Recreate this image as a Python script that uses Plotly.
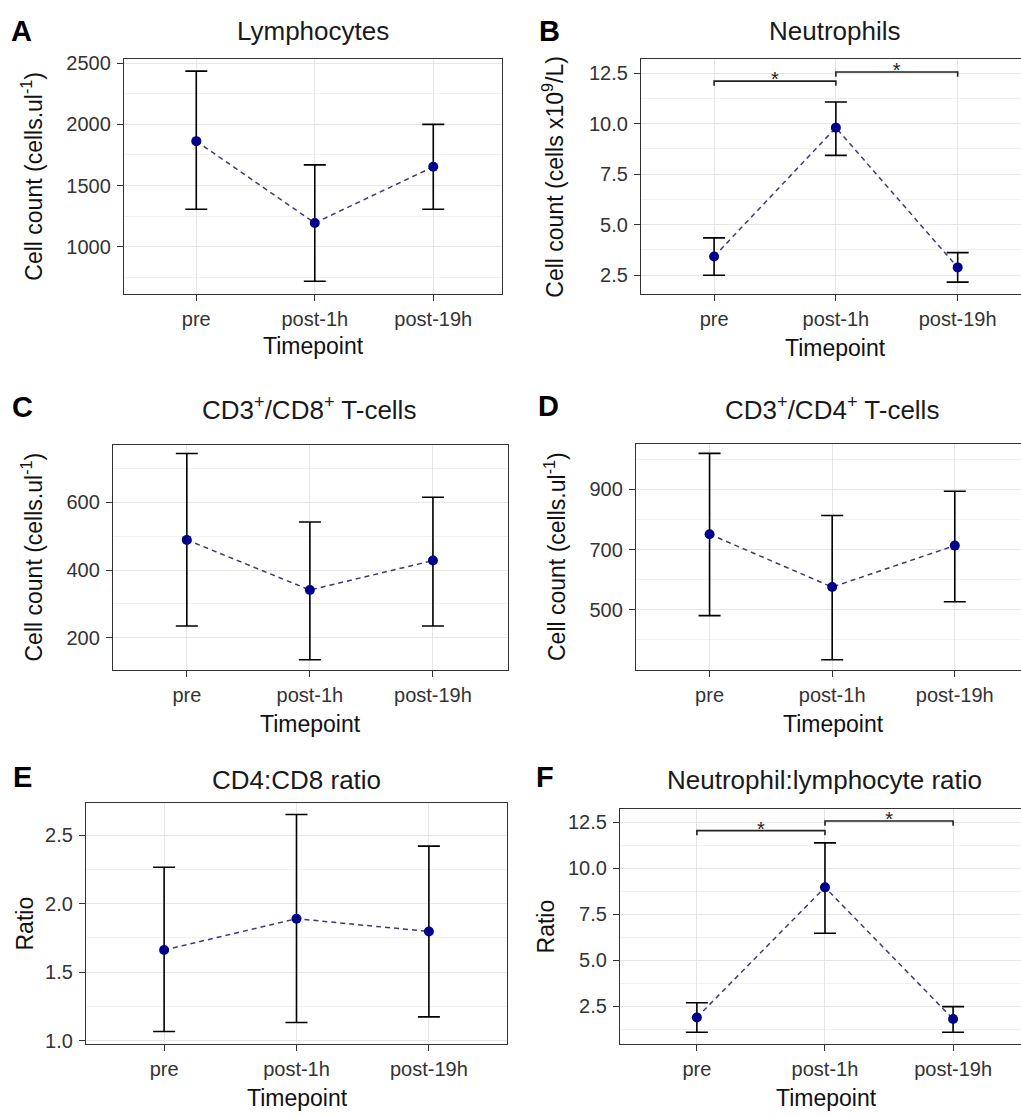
import plotly.graph_objects as go

# ---------------- data ----------------
categories = ["pre", "post-1h", "post-19h"]

lymph_mean = [1863, 1194, 1653]
lymph_upper = [2435, 1669, 2000]
lymph_lower = [1306, 718, 1306]
lymph_ticks = [1000, 1500, 2000, 2500]
lymph_ticklabels = ["1000", "1500", "2000", "2500"]
lymph_minor = [750, 1250, 1750, 2250]

neut_mean = [3.43, 9.80, 2.89]
neut_upper = [4.35, 11.07, 3.62]
neut_lower = [2.50, 8.43, 2.16]
neut_ticks = [2.5, 5.0, 7.5, 10.0, 12.5]
neut_ticklabels = ["2.5", "5.0", "7.5", "10.0", "12.5"]
neut_minor = [3.75, 6.25, 8.75, 11.25]
neut_brackets = [(0, 1, 12.10), (1, 2, 12.55)]

cd8_mean = [489, 341, 428]
cd8_upper = [744, 542, 615]
cd8_lower = [235, 135, 235]
cd8_ticks = [200, 400, 600]
cd8_ticklabels = ["200", "400", "600"]
cd8_minor = [300, 500, 700]

cd4_mean = [751, 575, 713]
cd4_upper = [1020, 813, 894]
cd4_lower = [480, 333, 526]
cd4_ticks = [500, 700, 900]
cd4_ticklabels = ["500", "700", "900"]
cd4_minor = [400, 600, 800, 1000]

ratio_mean = [1.662, 1.890, 1.797]
ratio_upper = [2.265, 2.649, 2.419]
ratio_lower = [1.068, 1.134, 1.175]
ratio_ticks = [1.0, 1.5, 2.0, 2.5]
ratio_ticklabels = ["1.0", "1.5", "2.0", "2.5"]
ratio_minor = [1.25, 1.75, 2.25]

nlr_mean = [1.88, 8.96, 1.79]
nlr_upper = [2.68, 11.38, 2.47]
nlr_lower = [1.07, 6.46, 1.07]
nlr_ticks = [2.5, 5.0, 7.5, 10.0, 12.5]
nlr_ticklabels = ["2.5", "5.0", "7.5", "10.0", "12.5"]
nlr_minor = [1.25, 3.75, 6.25, 8.75, 11.25]
nlr_brackets = [(0, 1, 12.05), (1, 2, 12.57)]

# ---------------- layout helpers ----------------
W, H = 1021, 1117
FONT = "Liberation Sans, Arial, sans-serif"
BORDER = "#333333"
GRID_MAJOR = "#E6E6E6"
GRID_MINOR = "#F1F1F1"
POINT = "#00008B"
LINE = "#3C3C72"

fig = go.Figure()
annotations = []


def px_x(v):
    return v / W


def px_y(v):
    return 1 - v / H


def add_panel(n, letter, title, ytitle, mean, upper, lower, ticks, ticklabels,
              minor, box, xrange, yrange, ytitle_x, title_xy, letter_xy,
              xtitle_xy, right_open=False, brackets=None):
    xs = list(range(1, len(categories) + 1))
    sfx = "" if n == 1 else str(n)
    xa, ya = "x" + sfx, "y" + sfx

    fig.add_trace(go.Scatter(
        x=xs, y=mean, mode="lines", xaxis=xa, yaxis=ya,
        line=dict(color=LINE, width=1.5, dash="5px,4px"),
        hoverinfo="skip"))
    fig.add_trace(go.Scatter(
        x=xs, y=mean, mode="markers", xaxis=xa, yaxis=ya,
        marker=dict(color=POINT, size=10),
        error_y=dict(type="data", symmetric=False,
                     array=[u - m for u, m in zip(upper, mean)],
                     arrayminus=[m - l for m, l in zip(mean, lower)],
                     color="black", thickness=1.6, width=11)))

    if brackets:
        tip = 0.02 * (yrange[1] - yrange[0])
        for i, j, yb in brackets:
            fig.add_trace(go.Scatter(
                x=[xs[i], xs[i], xs[j], xs[j]],
                y=[yb - tip, yb, yb, yb - tip],
                mode="lines", xaxis=xa, yaxis=ya,
                line=dict(color="#222222", width=1.6),
                hoverinfo="skip"))
            fig.add_trace(go.Scatter(
                x=[(xs[i] + xs[j]) / 2], y=[yb], mode="text", text=["*"],
                textposition="middle center", xaxis=xa, yaxis=ya,
                textfont=dict(family=FONT, size=20, color="#222222"),
                hoverinfo="skip"))

    x0, y0, x1, y1 = box
    xkey = "xaxis" + sfx
    ykey = "yaxis" + sfx
    fig.update_layout(**{
        xkey: dict(
            domain=[px_x(x0), px_x(x1)], anchor=ya, range=xrange,
            tickmode="array", tickvals=xs, ticktext=categories,
            showgrid=True, gridcolor=GRID_MAJOR, gridwidth=1,
            zeroline=False, showline=True, mirror=True,
            linecolor=BORDER, linewidth=1.3,
            ticks="outside", ticklen=6, tickwidth=1.2, tickcolor=BORDER,
            tickfont=dict(family=FONT, size=20, color="#333333"),
            ticklabelstandoff=1,
        ),
        ykey: dict(
            domain=[px_y(y1), px_y(y0)], anchor=xa, range=yrange,
            tickmode="array", tickvals=ticks, ticktext=ticklabels,
            showgrid=True, gridcolor=GRID_MAJOR, gridwidth=1,
            minor=dict(tickmode="array", tickvals=minor, showgrid=True,
                       gridcolor=GRID_MINOR, gridwidth=1, ticks=""),
            zeroline=False, showline=True, mirror=(not right_open),
            linecolor=BORDER, linewidth=1.3,
            ticks="outside", ticklen=6, tickwidth=1.2, tickcolor=BORDER,
            tickfont=dict(family=FONT, size=20, color="#333333"),
            ticklabelstandoff=2,
        ),
    })

    cy = (y0 + y1) / 2
    annotations.append(dict(
        text=ytitle, x=px_x(ytitle_x), y=px_y(cy), xref="paper", yref="paper",
        xanchor="center", yanchor="middle", textangle=-90, showarrow=False,
        font=dict(family=FONT, size=23, color="#111111")))
    annotations.append(dict(
        text=title, x=px_x(title_xy[0]), y=px_y(title_xy[1]), xref="paper",
        yref="paper", xanchor="center", yanchor="middle", showarrow=False,
        font=dict(family=FONT, size=26, color="#1a1a1a")))
    annotations.append(dict(
        text="<b>" + letter + "</b>", x=px_x(letter_xy[0]), y=px_y(letter_xy[1]),
        xref="paper", yref="paper", xanchor="center", yanchor="middle",
        showarrow=False, font=dict(family=FONT, size=29, color="black")))
    annotations.append(dict(
        text="Timepoint", x=px_x(xtitle_xy[0]), y=px_y(xtitle_xy[1]),
        xref="paper", yref="paper", xanchor="center", yanchor="middle",
        showarrow=False, font=dict(family=FONT, size=23, color="#111111")))


add_panel(1, "A", "Lymphocytes", "Cell count (cells.ul<sup>-1</sup>)",
          lymph_mean, lymph_upper, lymph_lower, lymph_ticks, lymph_ticklabels,
          lymph_minor, box=(124, 53, 502, 291), xrange=[0.39, 3.58],
          yrange=[613, 2532], ytitle_x=32, title_xy=(313, 24),
          letter_xy=(21, 24), xtitle_xy=(313, 344))

add_panel(2, "B", "Neutrophils", "Cell count (cells x10<sup>9</sup>/L)",
          neut_mean, neut_upper, neut_lower, neut_ticks, neut_ticklabels,
          neut_minor, box=(641, 53, 1021, 291), xrange=[0.40, 3.52],
          yrange=[1.57, 13.18], ytitle_x=553, title_xy=(835, 24),
          letter_xy=(549, 24), xtitle_xy=(835, 346), right_open=True,
          brackets=neut_brackets)

add_panel(3, "C", "CD3<sup>+</sup>/CD8<sup>+</sup> T-cells",
          "Cell count (cells.ul<sup>-1</sup>)",
          cd8_mean, cd8_upper, cd8_lower, cd8_ticks, cd8_ticklabels,
          cd8_minor, box=(113, 444, 508, 672), xrange=[0.40, 3.61],
          yrange=[105, 769], ytitle_x=32, title_xy=(309, 407),
          letter_xy=(22, 405), xtitle_xy=(310, 727))

add_panel(4, "D", "CD3<sup>+</sup>/CD4<sup>+</sup> T-cells",
          "Cell count (cells.ul<sup>-1</sup>)",
          cd4_mean, cd4_upper, cd4_lower, cd4_ticks, cd4_ticklabels,
          cd4_minor, box=(636, 443, 1021, 672), xrange=[0.40, 3.54],
          yrange=[299, 1051], ytitle_x=555, title_xy=(832, 407),
          letter_xy=(548, 404), xtitle_xy=(833, 727), right_open=True)

add_panel(5, "E", "CD4:CD8 ratio", "Ratio",
          ratio_mean, ratio_upper, ratio_lower, ratio_ticks, ratio_ticklabels,
          ratio_minor, box=(86, 807, 507, 1051), xrange=[0.41, 3.59],
          yrange=[0.978, 2.732], ytitle_x=25, title_xy=(296, 784),
          letter_xy=(22, 780), xtitle_xy=(297, 1106))

add_panel(6, "F", "Neutrophil:lymphocyte ratio", "Ratio",
          nlr_mean, nlr_upper, nlr_lower, nlr_ticks, nlr_ticklabels,
          nlr_minor, box=(620, 813, 1021, 1051), xrange=[0.40, 3.53],
          yrange=[0.44, 13.22], ytitle_x=546, title_xy=(824, 784),
          letter_xy=(545, 780), xtitle_xy=(826, 1106), right_open=True,
          brackets=nlr_brackets)

fig.update_layout(
    width=W, height=H, margin=dict(l=0, r=0, t=0, b=0),
    paper_bgcolor="white", plot_bgcolor="white", showlegend=False,
    annotations=annotations, font=dict(family=FONT),
)

fig.write_html("out.html")
